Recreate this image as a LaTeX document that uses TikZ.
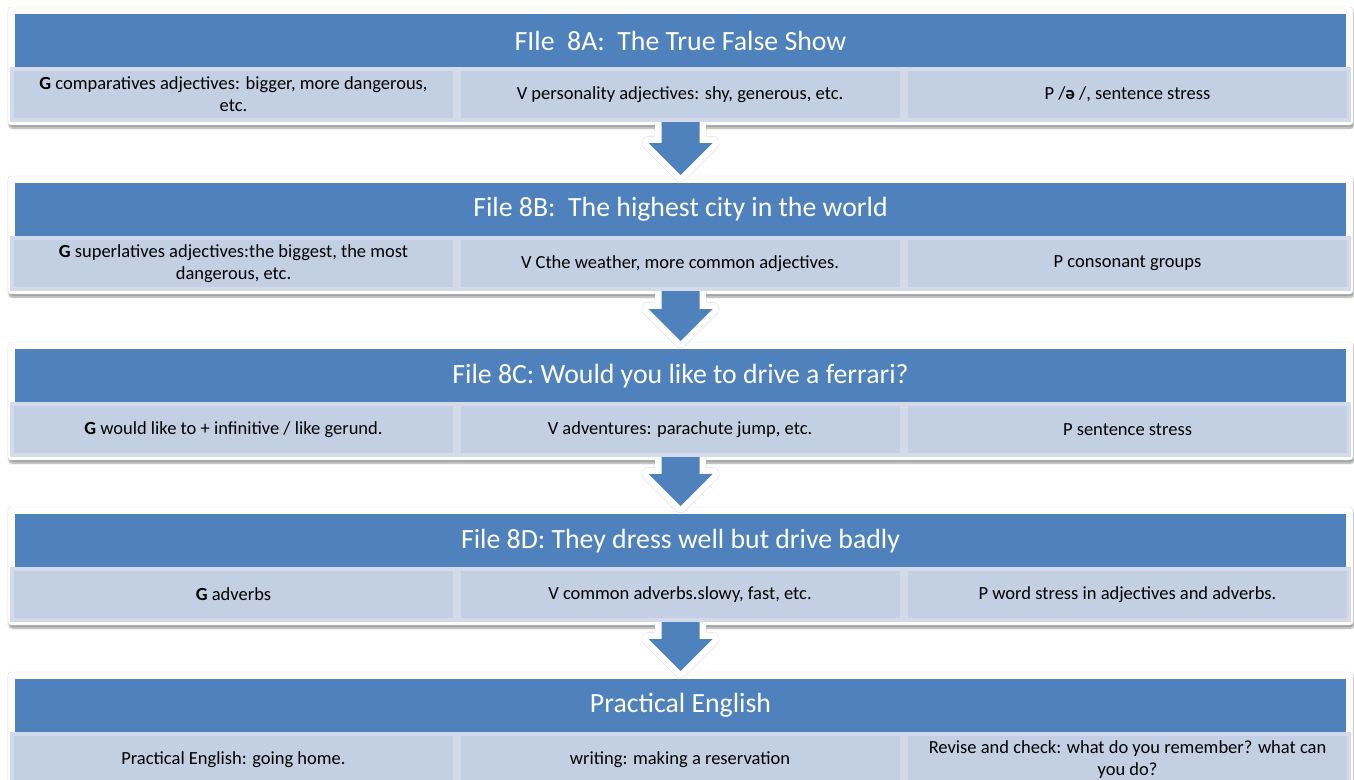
\documentclass[tikz,border=0pt]{standalone}
\usepackage{fontspec}
\setmainfont{Carlito}
\usetikzlibrary{calc,shadows.blur}

\definecolor{hdrblue}{HTML}{4F81BD}
\definecolor{subfill}{HTML}{C3CFE3}
\definecolor{subline}{HTML}{D3DBEA}

\pgfdeclarelayer{frames}
\pgfdeclarelayer{arrows}
\pgfsetlayers{frames,arrows,main}

\tikzset{
  header/.style={fill=hdrblue, text=white, anchor=north, inner sep=0pt,
    minimum width=1331pt, minimum height=53pt, font=\fontsize{27.8}{32}\selectfont},
  subbox/.style={fill=subfill, draw=subline, line width=4pt, anchor=north, inner sep=0pt,
    minimum width=443pt, minimum height=51pt, align=center, font=\fontsize{18.5}{22}\selectfont},
  frame/.style={fill=white, draw=black!12, rounded corners=3pt,
    blur shadow={shadow xshift=1pt, shadow yshift=-3pt, shadow blur steps=6, shadow opacity=40}},
  flowshade/.style={draw=black!45, line width=14pt, line join=round, opacity=.3},
  flowedge/.style={draw=white, line width=13pt, line join=round},
  flowfill/.style={fill=hdrblue}
}

% down arrow between two boxes
\newcommand{\flowarrow}[2]{%
  \path (#1.south) coordinate (top) (#2.north) coordinate (tip);
  \foreach \st/\sh in {flowshade/{(1.5pt,-3pt)}, flowedge/{(0,0)}, flowfill/{(0,0)}} {
    \path[\st, shift=\sh] ($(tip|-top)+(-19,-6)$) -- ($(tip)+(-19,-40)$) -- ($(tip)+(-32,-40)$)
      -- ($(tip)+(0,-8)$) -- ($(tip)+(32,-40)$) -- ($(tip)+(19,-40)$) -- ($(tip|-top)+(19,-6)$) -- cycle;
  }
}

\begin{document}
\begin{tikzpicture}[x=1pt, y=-1pt]

  \useasboundingbox (0,0) rectangle (1354,779);

  % File 8A
  \node[header] (h1) at (680.5,14) {FIle\ \ 8A:\ \ The True False Show};
  \node[subbox] (s11) at (233.5,67) {\textbf{G} comparatives adjectives: bigger, more dangerous,\\ etc.};
  \node[subbox] (s12) at (680,67) {V personality adjectives: shy, generous, etc.};
  \node[subbox] (s13) at (1127.5,67) {P /\textbf{ə} /, sentence stress};

  % File 8B
  \node[header] (h2) at (680.5,183) {File 8B:\ \ The highest city in the world};
  \node[subbox] (s21) at (233.5,236) {\textbf{G} superlatives adjectives:the biggest, the most\\ dangerous, etc.};
  \node[subbox] (s22) at (680,236) {V Cthe weather, more common adjectives.};
  \node[subbox] (s23) at (1127.5,236) {P consonant groups};

  % File 8C
  \node[header] (h3) at (680.5,349) {File 8C: Would you like to drive a ferrari?};
  \node[subbox] (s31) at (233.5,402) {\textbf{G} would like to + infinitive / like gerund.};
  \node[subbox] (s32) at (680,402) {V adventures: parachute jump, etc.};
  \node[subbox] (s33) at (1127.5,402) {P sentence stress};

  % File 8D
  \node[header] (h4) at (680.5,514) {File 8D: They dress well but drive badly};
  \node[subbox] (s41) at (233.5,567) {\textbf{G} adverbs};
  \node[subbox] (s42) at (680,567) {V common adverbs.slowy, fast, etc.};
  \node[subbox] (s43) at (1127.5,567) {P word stress in adjectives and adverbs.};

  % Practical English
  \node[header] (h5) at (680.5,679) {Practical English};
  \node[subbox] (s51) at (233.5,732) {Practical English: going home.};
  \node[subbox] (s52) at (680,732) {writing: making a reservation};
  \node[subbox] (s53) at (1127.5,732) {Revise and check: what do you remember? what can\\ you do?};

  \begin{pgfonlayer}{frames}
    \foreach \t in {14,183,349,514,679} {
      \path[frame] (8,\t-7) rectangle (1353,\t+111);
    }
  \end{pgfonlayer}

  \begin{pgfonlayer}{arrows}
    \flowarrow{s12}{h2}
    \flowarrow{s22}{h3}
    \flowarrow{s32}{h4}
    \flowarrow{s42}{h5}
  \end{pgfonlayer}

\end{tikzpicture}
\end{document}
